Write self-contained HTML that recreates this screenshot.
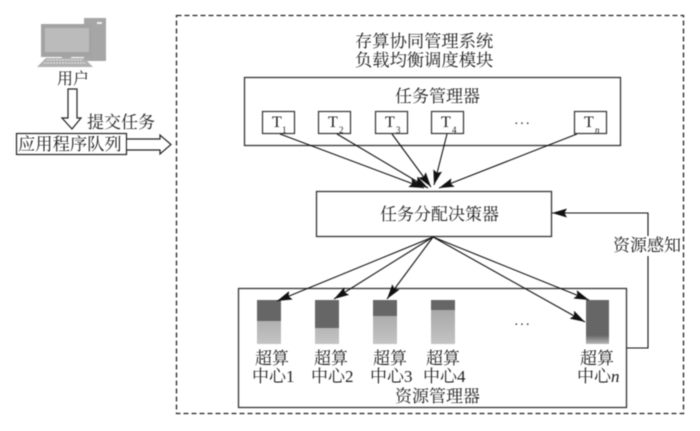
<!DOCTYPE html>
<html><head><meta charset="utf-8">
<style>
html,body{margin:0;padding:0;background:#fff}
svg{display:block;filter:blur(.45px)}
text{font-family:"Liberation Serif","Noto Serif CJK SC",serif;fill:#1c1c1c;font-size:17px}
</style></head><body>
<svg width="700" height="431" viewBox="0 0 700 431" xmlns="http://www.w3.org/2000/svg">
<defs>
<marker id="a" markerWidth="16" markerHeight="10" refX="15" refY="4.500" orient="auto" markerUnits="userSpaceOnUse"><path d="M0 0L15 4.500L0 9L2.500 4.500Z" fill="#111"/></marker>
<linearGradient id="g" x1="0" y1="0" x2="0" y2="1"><stop offset="0" stop-color="#a0a0a0"/><stop offset="1" stop-color="#c4c4c4"/></linearGradient>
<linearGradient id="h" x1="0" y1="0" x2="0" y2="1"><stop offset="0" stop-color="#666"/><stop offset=".8" stop-color="#666"/><stop offset="1" stop-color="#b8b8b8"/></linearGradient>
</defs>
<rect width="700" height="431" fill="#fff"/>
<!-- computer -->
<rect x="84" y="18" width="22" height="43" fill="#a6a6a6"/>
<rect x="97" y="22" width="5" height="2" fill="#eee"/>
<rect x="41" y="24" width="51" height="33" fill="#a3a3a3"/>
<rect x="45" y="28" width="44" height="24" fill="#bbb"/>
<rect x="62" y="57" width="9" height="4" fill="#a3a3a3"/>
<path d="M46 58H84L93 67H37Z" fill="#b0b0b0"/>
<path d="M47 60H83M44 63H86" stroke="#e8e8e8" stroke-width="1" stroke-dasharray="2 1"/>
<text x="57" y="84" style="font-size:16px">用户</text>
<path d="M68 89H77V118H81L72 129L62 118H68Z" fill="#fff" stroke="#222" stroke-width="1.2"/>
<text x="87" y="128">提交任务</text>
<rect x="16.500" y="133.500" width="110" height="21" fill="#fff" stroke="#222" stroke-width="1.2"/>
<text x="18" y="150" style="font-size:17.300px">应用程序队列</text>
<path d="M127 139H160V135L171 144.500L160 154V150H127" fill="#fff" stroke="#222" stroke-width="1.2"/>
<!-- outer dashed -->
<rect x="176.500" y="15.500" width="507" height="398" fill="none" stroke="#222" stroke-width="1.3" stroke-dasharray="5 3"/>
<text x="355" y="47" style="font-size:17.300px">存算协同管理系统</text>
<text x="355" y="66" style="font-size:17.300px">负载均衡调度模块</text>
<!-- task manager -->
<rect x="244.500" y="77.500" width="376" height="68" fill="#fff" stroke="#333" stroke-width="1.300"/>
<text x="395" y="102">任务管理器</text>
<g fill="#fff" stroke="#333" stroke-width="1.200">
<rect x="262.500" y="111.500" width="32" height="22"/>
<rect x="318.500" y="111.500" width="32" height="22"/>
<rect x="375.500" y="111.500" width="32" height="22"/>
<rect x="431.500" y="111.500" width="32" height="22"/>
<rect x="574.500" y="111.500" width="32" height="22"/>
</g>
<text x="272" y="127" style="font-size:16px">T</text><text x="282" y="133" style="font-size:9px">1</text>
<text x="328" y="127" style="font-size:16px">T</text><text x="339" y="133" style="font-size:9px">2</text>
<text x="385" y="127" style="font-size:16px">T</text><text x="396" y="133" style="font-size:9px">3</text>
<text x="441" y="127" style="font-size:16px">T</text><text x="452" y="133" style="font-size:9px">4</text>
<text x="584" y="127" style="font-size:16px">T</text><text x="595" y="133" style="font-size:9px;font-style:italic">n</text>
<text x="514" y="128" style="font-size:14px" letter-spacing="1">···</text>
<!-- arrows down to decision -->
<g stroke="#111" stroke-width="1.100" fill="none">
<line x1="280" y1="134" x2="424" y2="188" marker-end="url(#a)"/>
<line x1="337" y1="134" x2="428" y2="188" marker-end="url(#a)"/>
<line x1="392" y1="134" x2="431" y2="187" marker-end="url(#a)"/>
<line x1="447" y1="134" x2="434" y2="185" marker-end="url(#a)"/>
<line x1="577" y1="134" x2="439" y2="188" marker-end="url(#a)"/>
</g>
<!-- decision -->
<rect x="316.500" y="191.500" width="235" height="45" fill="#fff" stroke="#333" stroke-width="1.300"/>
<text x="380" y="220">任务分配决策器</text>
<!-- resource manager -->
<rect x="238.500" y="288.500" width="388" height="119" fill="#fff" stroke="#333" stroke-width="1.300"/>
<!-- bars -->
<rect x="257" y="300" width="24" height="44" fill="url(#g)"/><rect x="257" y="300" width="24" height="21" fill="#666"/>
<rect x="315" y="300" width="24" height="44" fill="url(#g)"/><rect x="315" y="300" width="24" height="28" fill="#666"/>
<rect x="373" y="300" width="24" height="44" fill="url(#g)"/><rect x="373" y="300" width="24" height="16" fill="#666"/>
<rect x="431" y="300" width="24" height="44" fill="url(#g)"/><rect x="431" y="300" width="24" height="10" fill="#666"/>
<rect x="586" y="300" width="23" height="44" fill="url(#h)"/>
<!-- arrows down -->
<g stroke="#111" stroke-width="1.100" fill="none">
<line x1="433" y1="237" x2="277" y2="301" marker-end="url(#a)"/>
<line x1="433" y1="237" x2="334" y2="299" marker-end="url(#a)"/>
<line x1="433" y1="237" x2="387" y2="299" marker-end="url(#a)"/>
<line x1="433" y1="237" x2="589" y2="300" marker-end="url(#a)"/>
<line x1="433" y1="237" x2="585" y2="322" marker-end="url(#a)"/>
<path d="M627 348H648V213H552" marker-end="url(#a)"/>
</g>
<text x="514" y="329" style="font-size:14px" letter-spacing="1">···</text>
<text x="255" y="364">超算</text>
<text x="252" y="382">中心1</text>
<text x="314" y="364">超算</text>
<text x="311" y="382">中心2</text>
<text x="373" y="364">超算</text>
<text x="370" y="382">中心3</text>
<text x="426" y="364">超算</text>
<text x="423" y="382">中心4</text>
<text x="580" y="364">超算</text>
<text x="577" y="382">中心<tspan font-style="italic">n</tspan></text>
<text x="395" y="402">资源管理器</text>
<!-- label -->
<rect x="612" y="236" width="70" height="20" fill="#fff"/>
<text x="613" y="251">资源感知</text>
</svg>
</body></html>
